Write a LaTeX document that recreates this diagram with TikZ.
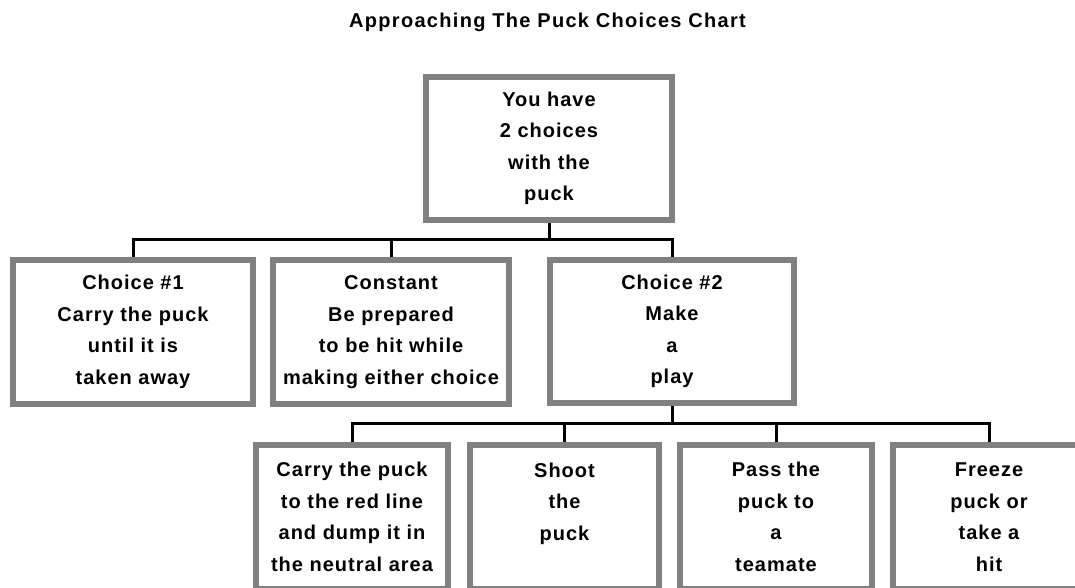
\documentclass[tikz,border=0pt]{standalone}
\usepackage{fontspec}
\setmainfont{Liberation Sans}
\newfontfamily\boxfont[LetterSpace=5]{Liberation Sans Bold}
\newfontfamily\titlefont[LetterSpace=6.5]{Liberation Sans Bold}
\usetikzlibrary{backgrounds}
\definecolor{boxgray}{RGB}{128,128,128}
\begin{document}
\begin{tikzpicture}[x=1pt,y=1pt,
  box/.style={draw=boxgray, fill=white, line width=6pt, minimum height=144pt,
    align=center, inner sep=0pt, outer sep=0pt,
    font=\boxfont\fontsize{20}{31.5}\selectfont},
  conn/.style={line width=3pt, draw=black}]
\useasboundingbox (0,0) rectangle (1075,-587);
\node[font=\titlefont\fontsize{20}{24}\selectfont, anchor=base] (title) at (547.5,-27) {Approaching The Puck Choices Chart};
% level 0
\node[box, minimum width=246pt, minimum height=143pt] (top) at (549,-148.5) {You have\\2 choices\\with the\\puck};
% level 1
\node[box, minimum width=240pt] (c0) at (133,-332) {Choice \#1\\Carry the puck\\until it is\\taken away};
\node[box, minimum width=236pt] (c1) at (391,-332) {Constant\\Be prepared\\to be hit while\\making either choice};
\node[box, minimum width=244pt, minimum height=143pt] (c2) at (672,-331.5) {Choice \#2\\Make\\a\\play};
% level 2
\node[box, minimum width=192pt] (b1) at (352,-517) {Carry the puck\\to the red line\\and dump it in\\the neutral area};
\node[box, minimum width=189pt] (b2) at (564.5,-517) {Shoot\\the\\puck\\\phantom{x}};
\node[box, minimum width=192pt] (b3) at (776,-517) {Pass the\\puck to\\a\\teamate};
\node[box, minimum width=192pt] (b4) at (989,-517) {Freeze\\puck or\\take a\\hit};
% connectors
\coordinate (bus1) at (548,-239.5);
\coordinate (bus2) at (672,-423);
\begin{scope}[on background layer]
\draw[conn] (top.south) -- (top.south |- bus1);
\draw[conn] (c0.north) |- (c2.north |- bus1) -- (c2.north);
\draw[conn] (c1.north) -- (c1.north |- bus1);
\draw[conn] (c2.south) -- (c2.south |- bus2);
\draw[conn] (b1.north) |- (b4.north |- bus2) -- (b4.north);
\draw[conn] (b2.north) -- (b2.north |- bus2);
\draw[conn] (b3.north) -- (b3.north |- bus2);
\end{scope}
\end{tikzpicture}
\end{document}
